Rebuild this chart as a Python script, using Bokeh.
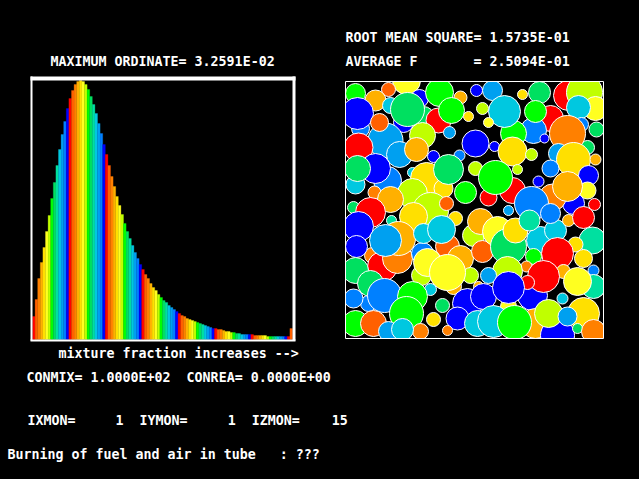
from bokeh.embed import file_html
from bokeh.resources import INLINE
from bokeh.plotting import figure, curdoc
from bokeh.models import Range1d, CustomJS, ColumnDataSource
from bokeh.core.properties import value

# colour cycle of the legacy display: bars and bubbles share it
palette = ["#ff0000", "#ff6000", "#ff8000", "#ffb000", "#ffe000", "#ffff20", "#c0ff00",
           "#00ff00", "#00e060", "#00e0a0", "#00c8e0", "#00a0f0", "#0080ff", "#0000ff"]

# histogram, relative ordinate (259 = MAXIMUM ORDINATE)
ordinate = [23, 40, 61, 77, 92, 108, 124, 141, 157, 174,
            190, 205, 218, 231, 241, 249, 255, 258, 259, 258,
            255, 250, 243, 235, 226, 216, 206, 195, 185, 174,
            163, 153, 143, 134, 125, 116, 108, 101, 94, 87,
            81, 75, 70, 65, 61, 56, 52, 49, 45, 42,
            39, 37, 34, 32, 30, 28, 26, 24, 23, 21,
            20, 19, 18, 17, 16, 15, 14, 13, 12, 11,
            11, 10, 10, 9, 8, 8, 7, 7, 6, 6,
            5, 5, 5, 5, 5, 4, 4, 4, 4, 4,
            3, 3, 3, 3, 3, 3, 3, 3, 3, 11]

# bubbles, in drawing order
bubble_x = [406,419,388,355,476,460,439,375,390,360,357,403,423,407,438,451,468,449,385,379,
            422,358,399,416,433,459,475,387,375,355,357,412,426,443,448,475,412,374,390,465,353,430,446,
            492,522,539,568,584,482,550,533,513,504,535,595,578,488,581,596,587,567,544,494,512,558,573,531,595,550,517,512,488,495,538,588,573,587,552,567,531,594,508,
            370,358,391,413,455,372,382,397,398,422,447,423,441,385,356,473,460,355,421,470,427,453,447,370,430,368,353,384,412,406,467,442,433,457,447,355,373,388,420,402,
            480,482,497,508,515,540,555,529,550,568,583,592,575,533,557,583,526,507,563,593,532,543,593,577,488,478,483,527,508,508,562,583,535,557,548,567,477,493,514,577,593]
bubble_y = [80,98,89,93,90,97,92,100,105,128,113,122,117,109,120,110,116,132,140,122,
            135,147,154,149,156,155,143,180,168,184,168,172,178,188,169,168,193,192,199,192,207,210,203,
            90,94,92,95,92,108,118,130,133,111,111,108,107,122,124,129,147,133,138,146,151,153,159,154,159,168,169,190,197,177,181,175,203,190,197,186,203,204,210,
            212,226,220,216,218,255,266,258,238,253,246,233,229,240,246,235,258,270,275,275,262,286,272,283,289,303,298,295,296,313,303,305,319,318,330,323,323,331,331,329,
            221,251,231,246,230,240,230,220,213,220,217,240,244,256,253,258,266,271,271,270,295,276,286,281,275,286,296,282,306,287,298,313,323,335,313,316,323,321,322,328,331]
bubble_r = [14,9,7,10,6,6.5,14,10.5,8,9,16,10,11,17,12.5,13,5,6,17.5,9,
            13,14.5,13,12,6,5.5,13.5,14,15,9.5,13,5,16,9.5,15,7,15,6.5,13,11,6,18,7,
            10,5,11,15,18,6,13,13,13,16,11,12,12,5,7,7.5,7,18,4.5,5,14.5,10,17,6,5.5,8.5,5,13,8.5,17,5.5,10,11,8.5,13.5,15,17,6,5,
            15,15,5,14,7,8,15,15,17,11,12,10,14,16,11,11,13,13,10,8,14,8,18,13,6,8,9.5,17,15,17,15,7,7,11.5,5,13,13,10,8,11,
            13,11,15,18,12.5,14,11,10.5,10,6,11,13.5,7.5,8,16,9,5.5,15,7,5.5,15,16,12,14,8,5,13,7,8,16,5.5,16,15,17,14,9.5,13,16,17,5,12]
bubble_c = [5,13,1,7,13,3,7,3,10,12,13,13,8,8,0,7,4,11,11,1,
            6,0,11,3,13,12,13,12,13,10,8,10,4,4,8,6,6,2,3,7,8,6,1,
            11,4,8,0,6,6,0,12,7,10,7,5,10,5,12,8,8,2,13,13,4,11,4,6,3,12,6,0,0,7,13,13,13,5,2,3,12,0,11,
            0,13,9,4,4,2,0,2,3,12,1,10,10,11,13,6,3,8,6,6,5,3,5,8,10,12,12,12,7,7,13,8,4,13,2,7,1,11,2,10,
            3,1,5,8,4,10,10,9,12,3,0,9,4,7,0,4,2,6,3,12,13,0,9,5,11,3,13,0,5,13,10,4,3,13,6,11,10,10,7,8,2]
assert len(bubble_x) == len(bubble_y) == len(bubble_r) == len(bubble_c)
assert len(ordinate) == 100

titles = ["ROOT MEAN SQUARE= 1.5735E-01", "AVERAGE F       = 2.5094E-01", "MAXIMUM ORDINATE= 3.2591E-02",
          "mixture fraction increases -->", "CONMIX= 1.0000E+02  CONREA= 0.0000E+00",
          "IXMON=     1  IYMON=     1  IZMON=    15", "Burning of fuel and air in tube   : ???"]
title_x = [345, 345, 50, 58, 26, 27, 7]
title_y = [37, 61, 61, 353, 377, 420, 454]

# whole window, reference pixels
W0, W1, H0, H1 = 0, 639, 0, 479
# histogram plot area
HX0, HBIN, HY0 = 32, 2.6, 339

p = figure(width=W1 - W0, height=H1 - H0, output_backend="svg", toolbar_location=None,
           x_range=Range1d(W0, W1), y_range=Range1d(H1, H0), min_border=0,
           background_fill_color="#000000", border_fill_color="#000000", outline_line_color=None)
p.axis.visible = False
p.grid.visible = False
p.extra_x_ranges = {"bins": Range1d((W0 - HX0) / HBIN, (W1 - HX0) / HBIN)}
p.extra_y_ranges = {"ord": Range1d(HY0 - H1, HY0 - H0)}

# bubbles
src = ColumnDataSource(dict(x=bubble_x, y=bubble_y, r=bubble_r, c=[palette[i] for i in bubble_c]))
p.circle("x", "y", radius="r", source=src, fill_color="c", line_color="#ffffff", line_width=1)

# mask round the bubble box, then its frame
BX0, BX1, BY0, BY1 = 345, 603, 81, 338
p.quad(left=[W0, BX1, W0, W0], right=[BX0, W1, W1, W1], top=[H0, H0, H0, BY1], bottom=[H1, H1, BY0, H1],
       color="#000000", line_width=0)
p.quad(left=[BX0], right=[BX1], top=[BY0], bottom=[BY1], fill_color=None, line_color="#ffffff", line_width=1)

# histogram
cols = [palette[i % 14] for i in range(len(ordinate))]
p.vbar(x=[i + 0.5 for i in range(len(ordinate))], width=1, top=ordinate, bottom=0, fill_color=cols,
       line_color=cols, line_width=0.3, x_range_name="bins", y_range_name="ord")

# histogram frame
p.quad(left=[30, 292, 30, 30], right=[32, 295, 295, 295], top=[76, 76, 76, 339], bottom=[340, 340, 80, 341],
       color="#ffffff", line_width=0)

p.text(x=title_x, y=title_y, text=[t.replace(" ", "\u00a0") for t in titles], text_color="#ffffff",
       text_font=value("DejaVu Sans Mono"),
       text_font_size="13.3px", text_font_style="bold", text_baseline="middle", text_align="left")

doc = curdoc()
doc.add_root(p)
doc.js_on_event("document_ready", CustomJS(code="document.body.style.background='#000000';document.body.style.margin='0';document.body.style.overflow='hidden';"))

open("out.html", "w").write(file_html(p, INLINE))
